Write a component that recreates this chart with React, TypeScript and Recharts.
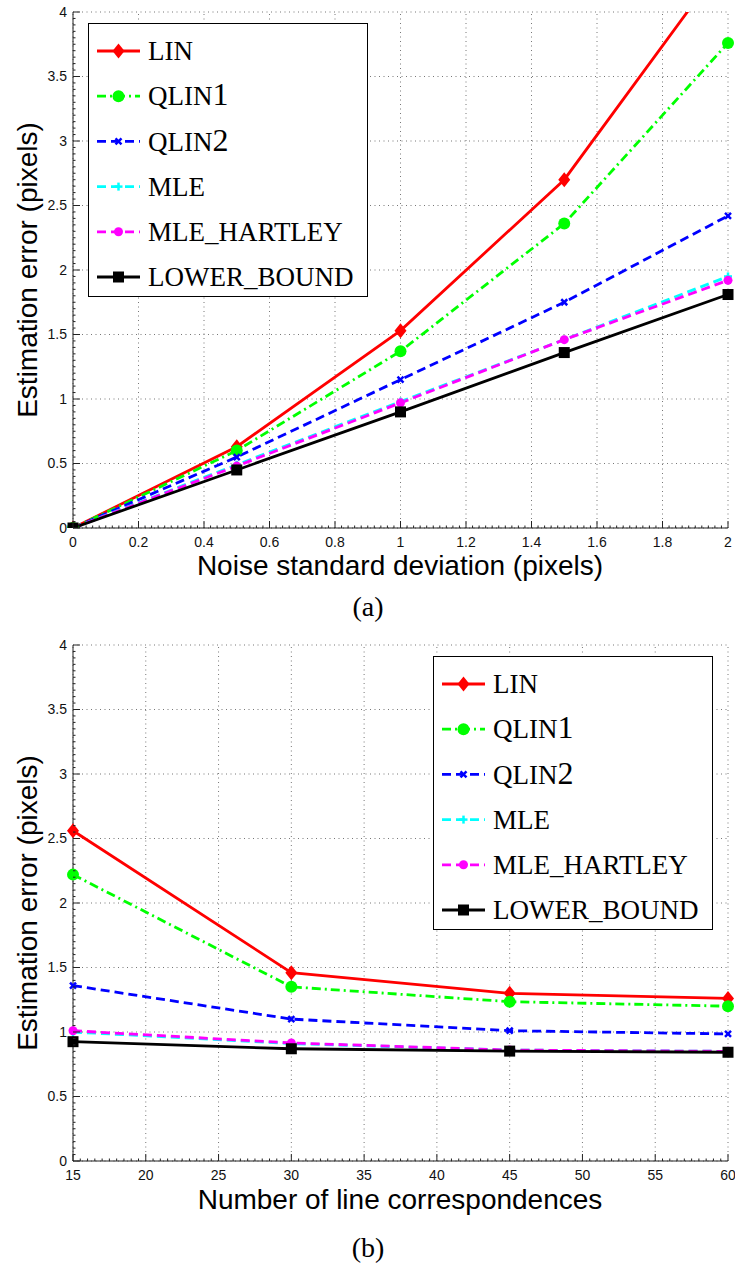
import React from 'react';
import { LineChart, Line, XAxis, YAxis, ReferenceLine, Legend } from 'recharts';

// ---------- data ----------
const SERIES_NAMES = ['LIN', 'QLIN1', 'QLIN2', 'MLE', 'MLE_HARTLEY', 'LOWER_BOUND'];

// (a) error vs noise standard deviation
const NOISE_X = [0, 0.5, 1, 1.5, 2];
const A_LIN = [0, 0.63, 1.53, 2.7, 4.43];
const A_QLIN1 = [0, 0.6, 1.37, 2.36, 3.76];
const A_QLIN2 = [0, 0.55, 1.15, 1.75, 2.42];
const A_MLE = [0, 0.49, 0.98, 1.46, 1.95];
const A_MLE_HARTLEY = [0, 0.48, 0.97, 1.46, 1.92];
const A_LOWER = [0, 0.45, 0.9, 1.36, 1.81];

// (b) error vs number of line correspondences
const LINES_X = [15, 30, 45, 60];
const B_LIN = [2.56, 1.46, 1.3, 1.26];
const B_QLIN1 = [2.22, 1.35, 1.235, 1.2];
const B_QLIN2 = [1.36, 1.1, 1.01, 0.985];
const B_MLE = [1.0, 0.91, 0.86, 0.85];
const B_MLE_HARTLEY = [1.01, 0.915, 0.86, 0.85];
const B_LOWER = [0.925, 0.87, 0.852, 0.843];

// ticks
const A_X_TICKS = [0, 0.2, 0.4, 0.6, 0.8, 1, 1.2, 1.4, 1.6, 1.8, 2];
const A_X_LABELS = ['0', '0.2', '0.4', '0.6', '0.8', '1', '1.2', '1.4', '1.6', '1.8', '2'];
const B_X_TICKS = [15, 20, 25, 30, 35, 40, 45, 50, 55, 60];
const B_X_LABELS = ['15', '20', '25', '30', '35', '40', '45', '50', '55', '60'];
const Y_TICKS = [0, 0.5, 1, 1.5, 2, 2.5, 3, 3.5, 4];
const Y_LABELS = ['0', '0.5', '1', '1.5', '2', '2.5', '3', '3.5', '4'];

const A_TITLE_X = 'Noise standard deviation (pixels)';
const B_TITLE_X = 'Number of line correspondences';
const TITLE_Y = 'Estimation error (pixels)';

// ---------- tables ----------
const A_SERIES = [A_LIN, A_QLIN1, A_QLIN2, A_MLE, A_MLE_HARTLEY, A_LOWER];
const B_SERIES = [B_LIN, B_QLIN1, B_QLIN2, B_MLE, B_MLE_HARTLEY, B_LOWER];
const buildRows = (xs: number[], series: number[][]) =>
  xs.map((x, i) => {
    const row: Record<string, number> = { x };
    SERIES_NAMES.forEach((n, k) => (row[n] = series[k][i]));
    return row;
  });
const A_DATA = buildRows(NOISE_X, A_SERIES);
const B_DATA = buildRows(LINES_X, B_SERIES);

const subdivide = (majors: number[], n: number) => {
  const out: number[] = [];
  for (let i = 0; i < majors.length - 1; i++) {
    for (let k = 0; k < n; k++) out.push(majors[i] + ((majors[i + 1] - majors[i]) * k) / n);
  }
  out.push(majors[majors.length - 1]);
  return out;
};

// ---------- styles ----------
const SANS = "'Liberation Sans', Arial, Helvetica, sans-serif";
const SERIF = "'Liberation Serif', 'Times New Roman', serif";
const AXIS_COLOR = '#222';
const LW = 2.8;

type Kind = 'diamond' | 'circle' | 'x' | 'plus' | 'dot' | 'square';
const STYLE: Record<string, { color: string; dash?: string; marker: Kind }> = {
  LIN: { color: '#ff0000', marker: 'diamond' },
  QLIN1: { color: '#00ff00', dash: '9 4 2 4', marker: 'circle' },
  QLIN2: { color: '#0000ff', dash: '9 5', marker: 'x' },
  MLE: { color: '#00ffff', dash: '9 5', marker: 'plus' },
  MLE_HARTLEY: { color: '#ff00ff', dash: '9 5', marker: 'dot' },
  LOWER_BOUND: { color: '#000000', marker: 'square' },
};

const Marker = ({ cx, cy, kind, color }: { cx: number; cy: number; kind: Kind; color: string }) => {
  if (cx == null || cy == null || isNaN(cx) || isNaN(cy)) return <g />;
  switch (kind) {
    case 'diamond':
      return <polygon points={`${cx},${cy - 7.5} ${cx + 6},${cy} ${cx},${cy + 7.5} ${cx - 6},${cy}`} fill={color} />;
    case 'circle':
      return <circle cx={cx} cy={cy} r={6} fill={color} />;
    case 'dot':
      return <circle cx={cx} cy={cy} r={4.5} fill={color} />;
    case 'square':
      return <rect x={cx - 5.5} y={cy - 5.5} width={11} height={11} fill={color} />;
    case 'x':
      return (
        <g stroke={color} strokeWidth={2.5}>
          <line x1={cx - 3} y1={cy - 3} x2={cx + 3} y2={cy + 3} />
          <line x1={cx - 3} y1={cy + 3} x2={cx + 3} y2={cy - 3} />
        </g>
      );
    case 'plus':
      return (
        <g stroke={color} strokeWidth={2.5}>
          <line x1={cx - 4} y1={cy} x2={cx + 4} y2={cy} />
          <line x1={cx} y1={cy - 4} x2={cx} y2={cy + 4} />
        </g>
      );
  }
  return <g />;
};

const findMajor = (majors: number[], v: number) => majors.findIndex((m) => Math.abs(m - v) < 1e-6);

const makeXTick = (majors: number[], labels: string[]) => (props: any) => {
  const { x, y, payload } = props;
  const idx = findMajor(majors, payload.value);
  const major = idx >= 0;
  return (
    <g>
      <line x1={x} x2={x} y1={y} y2={y - (major ? 7 : 2.5)} stroke={AXIS_COLOR} strokeWidth={1} />
      {major && (
        <text x={x} y={y + 9} dy="0.71em" textAnchor="middle" fontFamily={SANS} fontSize={14} fill="#111">
          {labels[idx]}
        </text>
      )}
    </g>
  );
};

const makeYTick = (majors: number[], labels: string[]) => (props: any) => {
  const { x, y, payload } = props;
  const idx = findMajor(majors, payload.value);
  const major = idx >= 0;
  return (
    <g>
      <line x1={x} x2={x + (major ? 7 : 2.5)} y1={y} y2={y} stroke={AXIS_COLOR} strokeWidth={1} />
      {major && (
        <text x={x - 6} y={y} dy="0.35em" textAnchor="end" fontFamily={SANS} fontSize={14} fill="#111">
          {labels[idx]}
        </text>
      )}
    </g>
  );
};

const LegendBox = () => (
  <div
    style={{
      width: 280,
      height: 274,
      boxSizing: 'border-box',
      border: '1.5px solid #000',
      background: '#fff',
    }}
  >
    <svg width={277} height={271} style={{ display: 'block' }}>
      {SERIES_NAMES.map((n, i) => {
        const s = STYLE[n];
        const cy = 27 + i * 45.2;
        const digit = /\d$/.test(n);
        return (
          <g key={n}>
            <line x1={8} x2={51} y1={cy} y2={cy} stroke={s.color} strokeWidth={LW} strokeDasharray={s.dash} />
            <Marker cx={29.5} cy={cy} kind={s.marker} color={s.color} />
            <text x={59} y={cy} dy="0.34em" fontFamily={SERIF} fontSize={27} fill="#000">
              {digit ? (
                <>
                  {n.slice(0, -1)}
                  <tspan fontSize={32}>{n.slice(-1)}</tspan>
                </>
              ) : (
                n
              )}
            </text>
          </g>
        );
      })}
    </svg>
  </div>
);

const Panel = ({
  data,
  xDomain,
  xMajors,
  xLabels,
  xMinorN,
  legendLeft,
}: {
  data: Record<string, number>[];
  xDomain: [number, number];
  xMajors: number[];
  xLabels: string[];
  xMinorN: number;
  legendLeft: number;
}) => (
  <LineChart width={735} height={600} data={data} margin={{ top: 12, right: 7, bottom: 0, left: 0 }}>
    <XAxis
      dataKey="x"
      type="number"
      domain={xDomain}
      ticks={subdivide(xMajors, xMinorN)}
      interval={0}
      tickLine={false}
      tickSize={0}
      tickMargin={0}
      axisLine={{ stroke: AXIS_COLOR, strokeWidth: 1 }}
      height={72}
      tick={makeXTick(xMajors, xLabels)}
    />
    <YAxis
      type="number"
      domain={[0, 4]}
      allowDataOverflow
      ticks={subdivide(Y_TICKS, 10)}
      interval={0}
      tickLine={false}
      tickSize={0}
      tickMargin={0}
      axisLine={{ stroke: AXIS_COLOR, strokeWidth: 1 }}
      width={73}
      tick={makeYTick(Y_TICKS, Y_LABELS)}
    />
    {xMajors.map((v) => (
      <ReferenceLine key={'vx' + v} x={v} stroke="#777" strokeWidth={1} strokeDasharray="1 3.5" />
    ))}
    {Y_TICKS.map((v) => (
      <ReferenceLine key={'hy' + v} y={v} stroke="#777" strokeWidth={1} strokeDasharray="1 3.5" />
    ))}
    {SERIES_NAMES.map((n) => {
      const s = STYLE[n];
      return (
        <Line
          key={n}
          dataKey={n}
          name={n}
          type="linear"
          stroke={s.color}
          strokeWidth={LW}
          strokeDasharray={s.dash}
          isAnimationActive={false}
          activeDot={false}
          dot={(p: any) => <Marker key={n + p.index} cx={p.cx} cy={p.cy} kind={s.marker} color={s.color} />}
        />
      );
    })}
    <Legend
      layout="vertical"
      align="center"
      verticalAlign="middle"
      content={() => <LegendBox />}
      wrapperStyle={{ left: legendLeft, top: 23, width: 280, height: 274 }}
    />
  </LineChart>
);

export default function App() {
  return (
    <div style={{ position: 'absolute', left: 0, top: 0, width: 735, height: 1268, background: '#fff' }}>
      <div style={{ position: 'absolute', left: 0, top: 0 }}>
        <Panel data={A_DATA} xDomain={[0, 2]} xMajors={A_X_TICKS} xLabels={A_X_LABELS} xMinorN={10} legendLeft={88} />
      </div>
      <div style={{ position: 'absolute', left: 0, top: 633 }}>
        <Panel data={B_DATA} xDomain={[15, 60]} xMajors={B_X_TICKS} xLabels={B_X_LABELS} xMinorN={10} legendLeft={433} />
      </div>
      <svg width={735} height={1268} style={{ position: 'absolute', left: 0, top: 0, pointerEvents: 'none' }}>
        <text x={400} y={575} textAnchor="middle" fontFamily={SANS} fontSize={28} fill="#000">
          {A_TITLE_X}
        </text>
        <text x={37} y={270} transform="rotate(-90 37 270)" textAnchor="middle" fontFamily={SANS} fontSize={28} fill="#000">
          {TITLE_Y}
        </text>
        <text x={368} y={616} textAnchor="middle" fontFamily={SERIF} fontSize={28} fill="#000">
          (a)
        </text>
        <text x={400} y={1209} textAnchor="middle" fontFamily={SANS} fontSize={28} fill="#000">
          {B_TITLE_X}
        </text>
        <text x={37} y={903} transform="rotate(-90 37 903)" textAnchor="middle" fontFamily={SANS} fontSize={28} fill="#000">
          {TITLE_Y}
        </text>
        <text x={368} y={1257} textAnchor="middle" fontFamily={SERIF} fontSize={28} fill="#000">
          (b)
        </text>
      </svg>
    </div>
  );
}
